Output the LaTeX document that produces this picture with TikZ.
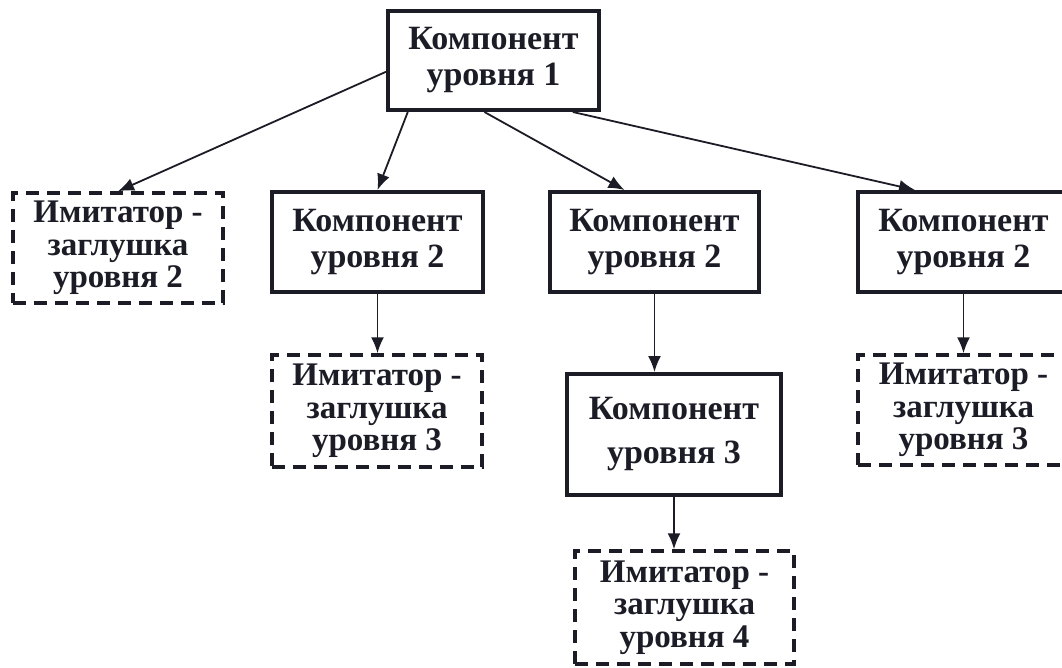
\documentclass[tikz,border=0pt]{standalone}
\usepackage{fontspec}
\setmainfont{Liberation Serif}
\usetikzlibrary{arrows.meta}
\definecolor{ink}{RGB}{28,28,38}

\begin{document}
\begin{tikzpicture}[x=1pt,y=-1pt,
  comp/.style={draw=ink,line width=4pt,inner sep=0pt,align=center,text=ink,
    font=\bfseries\fontsize{34}{36}\selectfont},
  stub/.style={comp,line width=3.5pt,dash pattern=on 13pt off 8pt,
    font=\bfseries\fontsize{33}{32.5}\selectfont},
  link/.style={draw=ink,line width=1.8pt,-{Latex[length=16pt,width=13pt]}}]
\useasboundingbox (0,0) rectangle (1062,668);
\fill [white] (0,0) rectangle (1062,668);
\clip (0,0) rectangle (1062,668);
\node [comp,minimum width=211pt,minimum height=99pt] (top) at (493.5,60.5) {Компонент\\уровня 1};
\node [stub,minimum width=210pt,minimum height=110pt] (s2) at (118,248) {Имитатор -\\заглушка\\уровня 2};
\node [comp,minimum width=211pt,minimum height=100pt] (ca) at (377.5,242) {Компонент\\уровня 2};
\node [comp,minimum width=209pt,minimum height=100pt] (cb) at (654.5,242) {Компонент\\уровня 2};
\node [comp,minimum width=211pt,minimum height=100pt] (cc) at (963.5,242) {Компонент\\уровня 2};
\node [stub,minimum width=210pt,minimum height=112pt] (sa) at (377,411) {Имитатор -\\заглушка\\уровня 3};
\node [comp,minimum width=214pt,minimum height=121pt,
  font=\bfseries\fontsize{34}{44}\selectfont] (c3) at (674,434.5) {Компонент\\уровня 3};
\node [stub,minimum width=211pt,minimum height=110pt] (sc) at (963.5,410) {Имитатор -\\заглушка\\уровня 3};
\node [stub,minimum width=219pt,minimum height=113pt] (s4) at (684.5,607.5) {Имитатор -\\заглушка\\уровня 4};
\draw [link] (top.186) -- (s2.north);
\draw [link] (top.211) -- (ca.north);
\draw [link] (top.260) -- (cb.120);
\draw [link] (top.327) -- (cc.133);
\draw [link] (ca.south) -- (ca.south |- sa.north);
\draw [link] (cb.south) -- (cb.south |- c3.north);
\draw [link] (cc.south) -- (cc.south |- sc.north);
\draw [link] (c3.south) -- (c3.south |- s4.north);
\end{tikzpicture}
\end{document}
